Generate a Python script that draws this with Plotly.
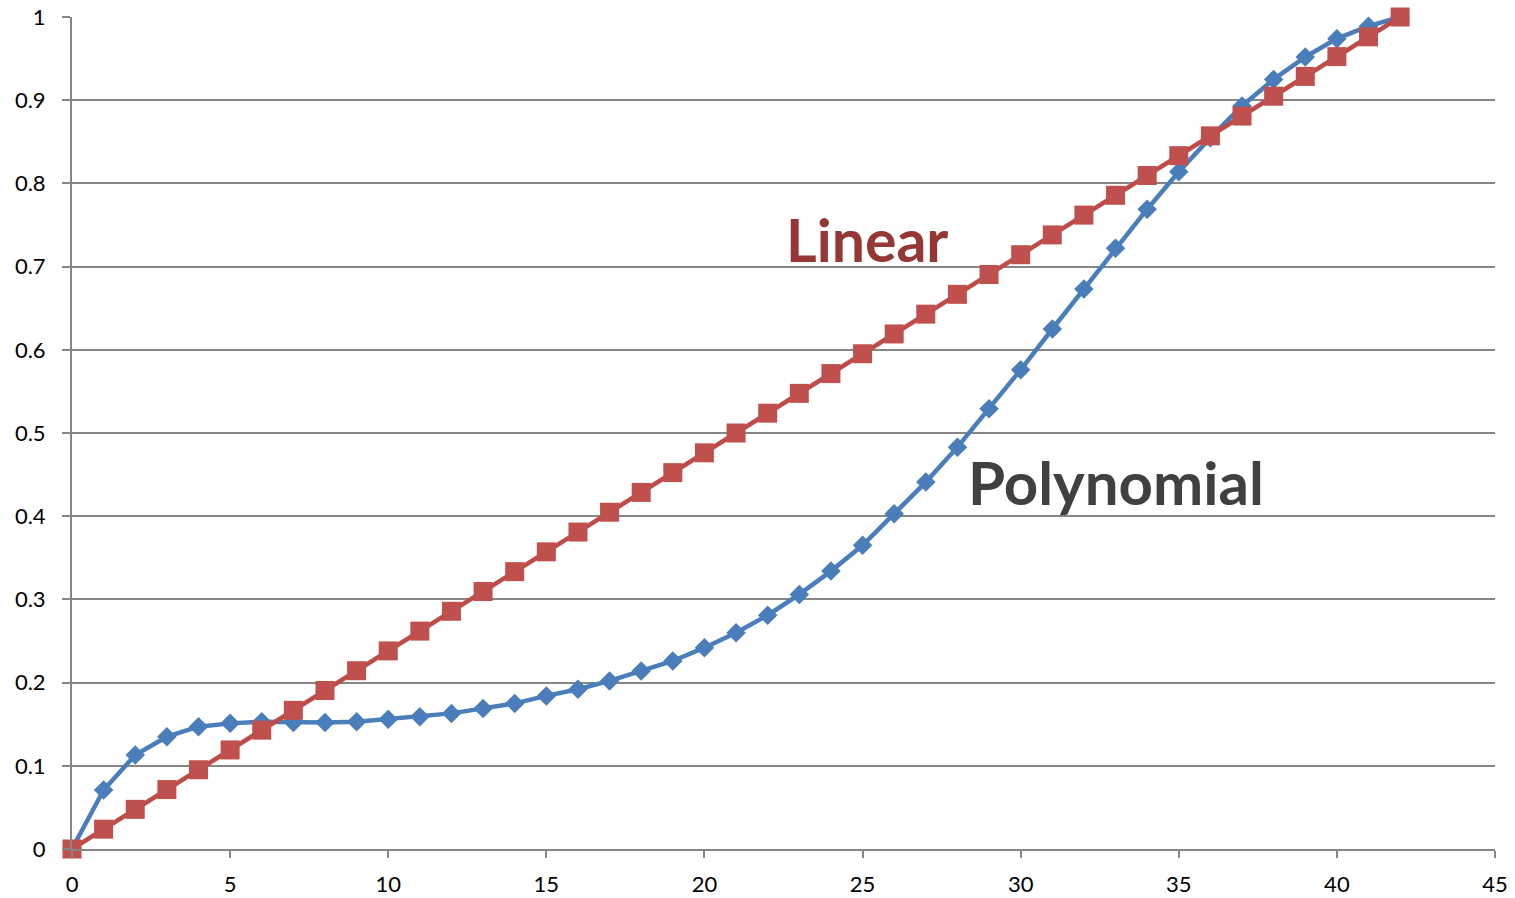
import plotly.graph_objects as go

x_vals = list(range(0, 43))
linear = [i / 42 for i in x_vals]
polynomial = [0.0, 0.071, 0.113, 0.135, 0.147, 0.151, 0.153, 0.152, 0.152, 0.153,
              0.156, 0.159, 0.163, 0.169, 0.175, 0.184, 0.192, 0.202, 0.214, 0.226,
              0.242, 0.260, 0.281, 0.306, 0.334, 0.365, 0.403, 0.441, 0.483, 0.529,
              0.576, 0.625, 0.673, 0.722, 0.769, 0.814, 0.855, 0.893, 0.925, 0.952,
              0.974, 0.989, 1.0]
x_ticks = [0, 5, 10, 15, 20, 25, 30, 35, 40, 45]
y_ticks = [0, 0.1, 0.2, 0.3, 0.4, 0.5, 0.6, 0.7, 0.8, 0.9, 1]
y_tick_labels = ["0", "0.1", "0.2", "0.3", "0.4", "0.5", "0.6", "0.7", "0.8", "0.9", "1"]

fig = go.Figure()
fig.add_trace(go.Scatter(x=x_vals, y=polynomial, mode="lines+markers", name="Polynomial",
                         line=dict(color="#4A7EBB", width=4.5),
                         marker=dict(symbol="diamond", size=15, color="#4A7EBB"),
                         cliponaxis=False))
fig.add_trace(go.Scatter(x=x_vals, y=linear, mode="lines+markers", name="Linear",
                         line=dict(color="#BE4B48", width=4.5),
                         marker=dict(symbol="square", size=19, color="#C0504D"),
                         cliponaxis=False))

fig.add_annotation(x=25.14, y=0.732, text="<b>Linear</b>", showarrow=False,
                   font=dict(family="Lato", size=59, color="#953735"))
fig.add_annotation(x=33.0, y=0.441, text="<b>Polynomial</b>", showarrow=False,
                   font=dict(family="Lato", size=60, color="#404040"))

fig.update_layout(
    width=1515, height=898,
    margin=dict(l=72, r=20, t=17, b=49),
    paper_bgcolor="white", plot_bgcolor="white",
    showlegend=False,
    font=dict(family="Lato", size=22, color="black"),
)
fig.update_xaxes(range=[0, 45], tickvals=x_ticks, showgrid=False, automargin=False,
                 showline=True, linecolor="#868686", linewidth=2,
                 ticks="outside", ticklen=7, tickcolor="#868686", tickwidth=2,
                 zeroline=False, ticklabelstandoff=8)
fig.update_yaxes(range=[0, 1], tickvals=y_ticks, ticktext=y_tick_labels, showgrid=True,
                 automargin=False,
                 gridcolor="#868686", gridwidth=2,
                 showline=True, linecolor="#868686", linewidth=2,
                 ticks="outside", ticklen=8, tickcolor="#868686", tickwidth=2,
                 zeroline=False, ticklabelstandoff=12)

fig.write_html("out.html")
